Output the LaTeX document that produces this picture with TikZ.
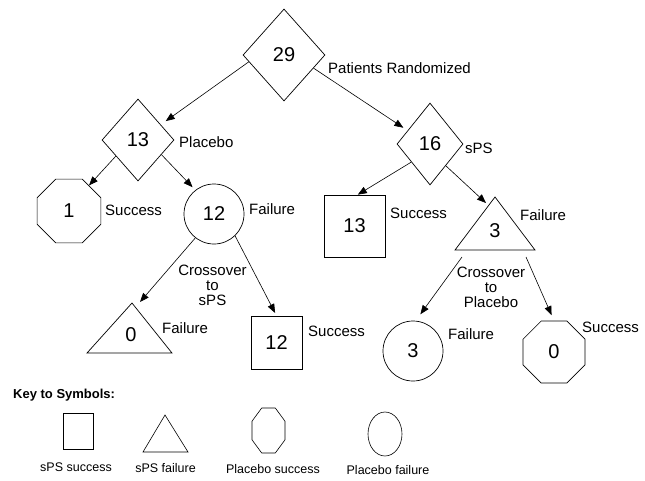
\documentclass[tikz,border=0pt]{standalone}
\usepackage{fontspec}
\setmainfont{Liberation Sans}
\usetikzlibrary{shapes.geometric,arrows.meta}
\begin{document}
\begin{tikzpicture}[x=1pt,y=-1pt,
  every node/.style={inner sep=0pt},
  lbl/.style={font=\fontsize{15}{15}\selectfont, anchor=west},
  cross/.style={font=\fontsize{15}{15}\selectfont, align=center},
  num/.style={font=\fontsize{20}{20}\selectfont},
  dia/.style={draw, diamond, num, line width=0.7pt},
  oct/.style={draw, regular polygon, regular polygon sides=8, num, line width=0.7pt},
  circ/.style={draw, circle, num, line width=0.7pt},
  sq/.style={draw, rectangle, num, line width=0.7pt},
  tri/.style={draw, line width=0.7pt, line join=miter},
  arr/.style={-{Triangle[length=9pt,width=7pt]}, line width=0.6pt},
  keylbl/.style={font=\fontsize{12.5}{12.5}\selectfont},
  keyshape/.style={draw, line width=0.6pt},
]
\useasboundingbox (0,0) rectangle (645,480);

% tree nodes
\node[dia, minimum width=82pt, minimum height=92pt] (n29) at (284,55) {29};
\node[dia, minimum width=72pt, minimum height=82pt] (n13) at (138,140) {13};
\node[dia, minimum width=66pt, minimum height=82pt] (n16) at (430,144) {16};
\node[oct, minimum size=69pt] (o1) at (69,211) {1};
\node[circ, minimum size=60pt] (c12) at (214,214) {12};
\node[sq, minimum width=61pt, minimum height=62pt] (s13) at (354.5,226) {13};
\node[sq, minimum width=51pt, minimum height=53pt] (s12) at (276.5,342.5) {12};
\node[circ, minimum size=60pt] (c3) at (413,351) {3};
\node[oct, minimum size=67pt] (o0) at (554,352) {0};

% triangles
\coordinate (t3a) at (495,197);
\coordinate (t3l) at (455,250);
\coordinate (t3r) at (535,250);
\draw[tri] (t3a) -- (t3l) -- (t3r) -- cycle;
\node[num] (t3) at (495,231) {3};
\coordinate (t0a) at (132,303);
\coordinate (t0l) at (87,353);
\coordinate (t0r) at (172,353);
\draw[tri] (t0a) -- (t0l) -- (t0r) -- cycle;
\node[num] (t0) at (131,335) {0};

% labels
\node[lbl] (lpr) at (328,68) {Patients Randomized};
\node[lbl] (lpl) at (179,142) {Placebo};
\node[lbl] (lsps) at (465,148) {sPS};
\node[lbl] (ls1) at (105,210) {Success};
\node[lbl] (lf12) at (249,209) {Failure};
\node[lbl] (ls13) at (390,213) {Success};
\node[lbl] (lf3) at (520,215) {Failure};
\node[lbl] (lf0) at (162,328) {Failure};
\node[lbl] (ls12) at (308,331) {Success};
\node[lbl] (lf3c) at (448,334) {Failure};
\node[lbl] (ls0) at (582,327) {Success};
\node[cross] (xs) at (212.5,285) {Crossover\\to\\sPS};
\node[cross] (xp) at (491,287) {Crossover\\to\\Placebo};

% arrow end coordinates on triangles
\coordinate (t3in) at (486,203);
\coordinate (t0in) at (140,302);
\coordinate (t3bl) at (462,257);
\coordinate (t3br) at (526,257);

% arrows
\draw[arr, shorten >=6pt] (n29.191) -- (n13.34);
\draw[arr, shorten >=5pt] (n29.336) -- (n16.149);
\draw[arr] (n13.216) -- (o1.52);
\draw[arr, shorten >=4pt] (n13.328) -- (c12.128);
\draw[arr] (n16.224) -- (s13.84);
\draw[arr] (n16.306) -- (t3in);
\draw[arr] (c12.232) -- (t0in);
\draw[arr, shorten >=3pt] (c12.314) -- (s12.north);
\draw[arr, shorten >=8pt] (t3bl) -- (c3.85);
\draw[arr, shorten >=6pt] (t3br) -- (o0.north);

% key
\node[font=\bfseries\fontsize{13}{13}\selectfont, anchor=west] (key) at (13,395) {Key to Symbols:};
\node[keyshape, minimum width=30pt, minimum height=36pt] (ksq) at (78,431) {};
\draw[keyshape] (165,415) -- (143,452) -- (188,452) -- cycle;
\draw[keyshape] (261.7,408) -- (275.3,408) -- (285,421.2) -- (285,439.8) -- (275.3,453) -- (261.7,453) -- (252,439.8) -- (252,421.2) -- cycle;
\node[keyshape, ellipse, minimum width=34pt, minimum height=44pt] (kc) at (385,434) {};
\node[keylbl] (k1) at (76,467) {sPS success};
\node[keylbl] (k2) at (165.5,468) {sPS failure};
\node[keylbl] (k3) at (273,469) {Placebo success};
\node[keylbl] (k4) at (388,470) {Placebo failure};
\end{tikzpicture}
\end{document}
